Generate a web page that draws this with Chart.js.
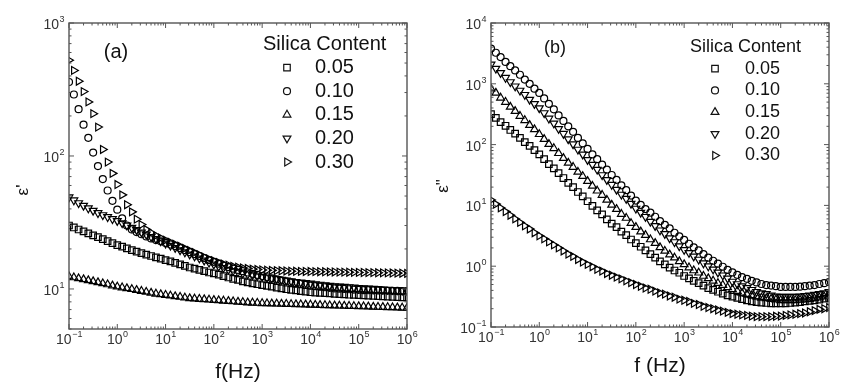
<!DOCTYPE html>
<html>
<head>
<meta charset="utf-8">
<script src="https://cdn.jsdelivr.net/npm/chart.js@4.4.1/dist/chart.umd.min.js"></script>
<style>
  html, body { margin: 0; padding: 0; background: #fff; }
  #wrap { position: relative; width: 843px; height: 385px; }
  canvas { position: absolute; top: 0; }
  #ca { left: 0; }
  #cb { left: 421px; }
</style>
</head>
<body>
<div id="wrap">
  <canvas id="ca" width="421" height="385"></canvas>
  <canvas id="cb" width="422" height="385"></canvas>
</div>
<script>
// ---------- Data ----------
const seriesLabels = ["0.05", "0.10", "0.15", "0.20", "0.30"];

// frequency sweep (Hz), 10 points per decade
const freq = [
  0.1, 0.126, 0.158, 0.2, 0.251, 0.316, 0.398, 0.501, 0.631, 0.794,
  1, 1.26, 1.58, 2, 2.51, 3.16, 3.98, 5.01, 6.31, 7.94,
  10, 12.6, 15.8, 20, 25.1, 31.6, 39.8, 50.1, 63.1, 79.4,
  100, 126, 158, 200, 251, 316, 398, 501, 631, 794,
  1000, 1260, 1580, 2000, 2510, 3160, 3980, 5010, 6310, 7940,
  10000, 12600, 15800, 20000, 25100, 31600, 39800, 50100, 63100, 79400,
  100000, 126000, 158000, 200000, 251000, 316000, 398000, 501000, 631000, 794000,
  1000000
];

// (a) real permittivity
const a05 = [
  30, 29, 28, 27.1, 26.2, 25.3, 24.5, 23.7, 22.9, 22.1,
  21.4, 20.8, 20.2, 19.6, 19.1, 18.6, 18.1, 17.7, 17.3, 16.9,
  16.5, 16.1, 15.7, 15.3, 14.9, 14.5, 14.2, 13.9, 13.6, 13.3,
  13.1, 12.8, 12.5, 12.2, 11.9, 11.7, 11.4, 11.2, 11.0, 10.85,
  10.7, 10.55, 10.4, 10.25, 10.1, 9.95, 9.85, 9.75, 9.65, 9.55,
  9.45, 9.4, 9.35, 9.3, 9.25, 9.2, 9.15, 9.1, 9.05, 9.02,
  9.0, 8.96, 8.92, 8.88, 8.84, 8.8, 8.76, 8.72, 8.69, 8.66,
  8.63
];
const a10 = [
  360, 290, 225, 172, 137, 106, 84, 67, 55, 46,
  39.5, 34, 30, 28, 26.8, 25.8, 24.8, 24.0, 23.3, 22.8,
  22.2, 21.6, 21.0, 20.3, 19.6, 18.9, 18.3, 17.7, 17.1, 16.5,
  16.0, 15.5, 15.0, 14.6, 14.2, 13.9, 13.6, 13.3, 13.0, 12.75,
  12.5, 12.25, 12.0, 11.8, 11.6, 11.4, 11.2, 11.05, 10.9, 10.75,
  10.6, 10.5, 10.4, 10.3, 10.2, 10.1, 10.05, 10.0, 9.95, 9.9,
  9.85, 9.8, 9.78, 9.76, 9.74, 9.72, 9.7, 9.68, 9.66, 9.64,
  9.62
];
const a15 = [
  12.4, 12.2, 12.0, 11.8, 11.6, 11.4, 11.2, 11.0, 10.8, 10.6,
  10.4, 10.25, 10.1, 9.95, 9.8, 9.65, 9.5, 9.35, 9.2, 9.1,
  9.0, 8.9, 8.8, 8.7, 8.6, 8.5, 8.45, 8.4, 8.35, 8.3,
  8.25, 8.2, 8.15, 8.1, 8.05, 8.0, 7.95, 7.9, 7.87, 7.84,
  7.8, 7.78, 7.76, 7.74, 7.72, 7.7, 7.68, 7.66, 7.64, 7.62,
  7.6, 7.58, 7.56, 7.54, 7.52, 7.5, 7.48, 7.46, 7.44, 7.42,
  7.4, 7.38, 7.36, 7.34, 7.32, 7.3, 7.28, 7.26, 7.24, 7.22,
  7.2
];
const a20 = [
  49, 46.5, 44.3, 42.3, 40.5, 38.8, 37.3, 36, 34.8, 33.6,
  32.5, 31.3, 30.1, 28.9, 27.8, 26.7, 25.7, 24.7, 23.8, 22.9,
  22, 21.2, 20.4, 19.6, 18.9, 18.2, 17.6, 17.0, 16.4, 15.8,
  15.3, 14.8, 14.4, 14.0, 13.7, 13.4, 13.1, 12.9, 12.7, 12.5,
  12.35, 12.2, 12.05, 11.9, 11.75, 11.6, 11.45, 11.3, 11.2, 11.1,
  11.0, 10.9, 10.8, 10.7, 10.6, 10.5, 10.45, 10.4, 10.35, 10.3,
  10.2, 10.15, 10.1, 10.05, 10.0, 9.95, 9.9, 9.85, 9.8, 9.75,
  9.7
];
const a30 = [
  525, 440, 365, 305, 255, 208, 165, 112, 90, 74,
  61, 51, 43, 38, 33.5, 30.5, 28, 26.5, 25.2, 24.2,
  23.3, 22.5, 21.7, 21.0, 20.2, 19.5, 18.8, 18.1, 17.4, 16.8,
  16.3, 15.8, 15.4, 15.1, 14.8, 14.6, 14.4, 14.25, 14.1, 14.0,
  13.9, 13.85, 13.8, 13.75, 13.7, 13.65, 13.6, 13.58, 13.56, 13.54,
  13.52, 13.5, 13.48, 13.46, 13.44, 13.42, 13.4, 13.38, 13.36, 13.34,
  13.32, 13.3, 13.28, 13.26, 13.24, 13.22, 13.2, 13.18, 13.16, 13.14,
  13.1
];

// (b) imaginary permittivity
const b05 = [
  316, 275, 234, 204, 174, 151, 129, 110, 95, 81,
  69, 57.5, 47.9, 40.7, 33.9, 28.2, 23.4, 20, 16.6, 14.1,
  11.7, 9.8, 8.3, 7.1, 5.9, 5.0, 4.4, 3.7, 3.24, 2.75,
  2.4, 2.09, 1.82, 1.58, 1.38, 1.2, 1.07, 0.95, 0.85, 0.78,
  0.69, 0.63, 0.575, 0.525, 0.48, 0.437, 0.407, 0.38, 0.355, 0.331,
  0.316, 0.302, 0.288, 0.275, 0.263, 0.257, 0.251, 0.248, 0.245, 0.245,
  0.245, 0.245, 0.248, 0.251, 0.257, 0.263, 0.269, 0.275, 0.282, 0.292,
  0.302
];
const b10 = [
  3800, 3240, 2750, 2290, 1950, 1660, 1410, 1175, 1000, 832,
  708, 575, 468, 380, 302, 245, 200, 162, 129, 105,
  85, 69, 57.5, 46.8, 38.9, 31.6, 26.3, 21.4, 17.8, 14.5,
  12.0, 10.2, 8.7, 7.6, 6.5, 5.5, 4.8, 4.2, 3.55, 3.1,
  2.7, 2.34, 2.04, 1.82, 1.58, 1.38, 1.23, 1.10, 0.98, 0.87,
  0.79, 0.72, 0.66, 0.62, 0.575, 0.54, 0.51, 0.49, 0.48, 0.47,
  0.457, 0.457, 0.457, 0.457, 0.46, 0.47, 0.48, 0.49, 0.51, 0.525,
  0.55
];
const b15 = [
  832, 708, 589, 501, 417, 355, 295, 251, 209, 178,
  148, 123, 102, 87, 72, 60, 50, 42.7, 35.5, 30.2,
  25.1, 20.9, 17.4, 14.8, 12.3, 10.2, 8.7, 7.2, 6.2, 5.1,
  4.4, 3.7, 3.24, 2.75, 2.4, 2.04, 1.78, 1.55, 1.38, 1.2,
  1.07, 0.95, 0.85, 0.78, 0.69, 0.63, 0.575, 0.525, 0.49, 0.447,
  0.417, 0.39, 0.363, 0.347, 0.331, 0.316, 0.302, 0.295, 0.288, 0.282,
  0.275, 0.275, 0.275, 0.275, 0.279, 0.282, 0.288, 0.295, 0.305, 0.316,
  0.324
];
const b20 = [
  2090, 1780, 1510, 1260, 1070, 912, 776, 661, 550, 468,
  398, 331, 269, 224, 182, 151, 123, 102, 83, 69,
  56, 46.8, 38.9, 31.6, 26.3, 21.9, 18.2, 15.1, 12.9, 10.7,
  8.9, 7.6, 6.5, 5.4, 4.6, 3.9, 3.4, 2.9, 2.5, 2.14,
  1.86, 1.66, 1.45, 1.29, 1.12, 1.0, 0.89, 0.79, 0.71, 0.63,
  0.56, 0.51, 0.47, 0.44, 0.41, 0.38, 0.36, 0.35, 0.33, 0.32,
  0.316, 0.316, 0.316, 0.316, 0.32, 0.324, 0.33, 0.34, 0.35, 0.36,
  0.38
];
const b30 = [
  12.3, 10.5, 9.1, 7.9, 6.9, 6.0, 5.25, 4.6, 4.1, 3.55,
  3.16, 2.82, 2.51, 2.24, 2.0, 1.78, 1.58, 1.45, 1.29, 1.17,
  1.07, 0.98, 0.89, 0.83, 0.76, 0.71, 0.66, 0.62, 0.575, 0.537,
  0.50, 0.468, 0.437, 0.417, 0.389, 0.363, 0.347, 0.324, 0.309, 0.288,
  0.275, 0.263, 0.245, 0.234, 0.219, 0.209, 0.2, 0.19, 0.182, 0.174,
  0.166, 0.162, 0.158, 0.155, 0.151, 0.148, 0.148, 0.148, 0.148, 0.15,
  0.151, 0.155, 0.158, 0.162, 0.166, 0.17, 0.178, 0.186, 0.195, 0.2,
  0.209
];

// decade exponents used as tick labels
const xTickExp = [-1, 0, 1, 2, 3, 4, 5, 6];
const aYTickExp = [1, 2, 3];
const bYTickExp = [-1, 0, 1, 2, 3, 4];

// ---------- Styling ----------
const FONT = '"Liberation Sans", Arial, Helvetica, sans-serif';
const MARKERS = [
  { style: 'rect', rot: 0, r: 4.6 },
  { style: 'circle', rot: 0, r: 3.5 },
  { style: 'triangle', rot: 0, r: 4.5 },
  { style: 'triangle', rot: 180, r: 4.5 },
  { style: 'triangle', rot: 90, r: 4.5 }
];

function drawMarker(ctx, m, x, y) {
  const r = m.r;
  ctx.beginPath();
  if (m.style === 'circle') {
    ctx.arc(x, y, r, 0, Math.PI * 2);
  } else if (m.style === 'rect') {
    const s = r * Math.SQRT1_2;
    ctx.rect(x - s, y - s, 2 * s, 2 * s);
  } else {
    let rad = m.rot * Math.PI / 180;
    for (let k = 0; k < 3; k++) {
      const px = x + Math.sin(rad) * r, py = y - Math.cos(rad) * r;
      k === 0 ? ctx.moveTo(px, py) : ctx.lineTo(px, py);
      rad += 2 * Math.PI / 3;
    }
    ctx.closePath();
  }
  ctx.stroke();
}

function powLabel(ctx, x, y, e, align) {
  const base = '10';
  const sup = e < 0 ? '\u2212' + (-e) : String(e);
  ctx.font = '14px ' + FONT;
  const wb = ctx.measureText(base).width;
  ctx.font = '9px ' + FONT;
  const ws = ctx.measureText(sup).width;
  const x0 = align === 'center' ? x - (wb + ws) / 2 : x - wb - ws;
  ctx.textAlign = 'left';
  ctx.textBaseline = 'alphabetic';
  ctx.font = '14px ' + FONT;
  ctx.fillText(base, x0, y);
  ctx.font = '9px ' + FONT;
  ctx.fillText(sup, x0 + wb + 0.5, y - 7);
}

// frame, inward ticks, labels, legend
const panelDecor = {
  id: 'panelDecor',
  afterDraw(chart, args, o) {
    const ctx = chart.ctx, ca = chart.chartArea;
    const xs = chart.scales.x, ys = chart.scales.y;
    ctx.save();

    ctx.strokeStyle = '#555';
    ctx.lineWidth = 1.4;
    ctx.strokeRect(ca.left, ca.top, ca.right - ca.left, ca.bottom - ca.top);

    ctx.lineWidth = 1;
    const line = (x1, y1, x2, y2) => {
      ctx.beginPath(); ctx.moveTo(x1, y1); ctx.lineTo(x2, y2); ctx.stroke();
    };
    const logTicks = (min, max, fn) => {
      for (let e = Math.floor(Math.log10(min)); e <= Math.ceil(Math.log10(max)); e++) {
        for (let m = 1; m < 10; m++) {
          const v = m * Math.pow(10, e);
          if (v < min * 0.9999 || v > max * 1.0001) continue;
          fn(v, m === 1);
        }
      }
    };
    logTicks(xs.min, xs.max, (v, major) => {
      const px = xs.getPixelForValue(v), len = major ? 5 : 2.5;
      line(px, ca.bottom, px, ca.bottom - len);
      line(px, ca.top, px, ca.top + len);
    });
    logTicks(ys.min, ys.max, (v, major) => {
      const py = ys.getPixelForValue(v), len = major ? 5 : 2.5;
      line(ca.left, py, ca.left + len, py);
      line(ca.right, py, ca.right - len, py);
    });

    ctx.fillStyle = '#333';
    xTickExp.forEach(e => {
      powLabel(ctx, xs.getPixelForValue(Math.pow(10, e)), ca.bottom + 15, e, 'center');
    });
    o.yExp.forEach(e => {
      powLabel(ctx, ca.left - 5, ys.getPixelForValue(Math.pow(10, e)) + 6, e, 'right');
    });

    ctx.fillStyle = '#111';
    ctx.textAlign = 'center';
    ctx.textBaseline = 'alphabetic';
    ctx.font = '21px ' + FONT;
    ctx.fillText(o.xTitle, (ca.left + ca.right) / 2, o.xTitleY);

    ctx.save();
    ctx.translate(o.yTitleX, o.yTitleY);
    ctx.rotate(-Math.PI / 2);
    ctx.textBaseline = 'middle';
    ctx.font = '17px ' + FONT;
    ctx.fillText(o.yTitle, 0, 0);
    ctx.restore();

    ctx.font = o.fontSize + 'px ' + FONT;
    ctx.textBaseline = 'middle';
    ctx.fillText(o.tag, o.tagX, o.tagY);

    const lg = o.legend;
    ctx.textAlign = 'left';
    ctx.fillText('Silica Content', lg.x, lg.y);
    ctx.strokeStyle = '#111';
    ctx.lineWidth = 1.2;
    seriesLabels.forEach((lab, i) => {
      const y = lg.y + lg.step * (i + 1);
      drawMarker(ctx, MARKERS[i], lg.mx, y);
      ctx.fillText(lab, lg.tx, y);
    });
    ctx.restore();
  }
};

function makeSets(series) {
  return series.map((vals, i) => ({
    label: seriesLabels[i],
    data: freq.map((f, j) => ({ x: f, y: vals[j] })),
    pointStyle: MARKERS[i].style,
    pointRotation: MARKERS[i].rot,
    pointRadius: MARKERS[i].r,
    borderColor: '#000',
    backgroundColor: 'rgba(0,0,0,0)',
    borderWidth: 1.2,
    showLine: false
  }));
}

function renderPanel(canvasId, series, cfg) {
  return new Chart(document.getElementById(canvasId), {
    type: 'scatter',
    data: { datasets: makeSets(series) },
    plugins: [panelDecor],
    options: {
      responsive: false,
      animation: false,
      devicePixelRatio: 1,
      layout: { padding: { left: 0, right: cfg.padRight, top: 23, bottom: 0 } },
      plugins: {
        legend: { display: false },
        tooltip: { enabled: false },
        panelDecor: cfg.decor
      },
      scales: {
        x: {
          type: 'logarithmic', min: 0.1, max: 1e6,
          ticks: { display: false }, grid: { display: false }, border: { display: false },
          afterFit: s => { s.height = cfg.xHeight; }
        },
        y: {
          type: 'logarithmic', min: cfg.yMin, max: cfg.yMax,
          ticks: { display: false }, grid: { display: false }, border: { display: false },
          afterFit: s => { s.width = cfg.yWidth; }
        }
      }
    }
  });
}

renderPanel('ca', [a05, a10, a15, a20, a30], {
  yMin: 5, yMax: 1000, yWidth: 69, xHeight: 56, padRight: 14,
  decor: {
    yExp: aYTickExp, xTitle: 'f(Hz)', xTitleY: 378,
    yTitle: "\u03b5'", yTitleX: 23, yTitleY: 190,
    tag: '(a)', tagX: 116, tagY: 52, fontSize: 20,
    legend: { x: 263, y: 44, step: 23.6, mx: 287, tx: 315 }
  }
});

renderPanel('cb', [b05, b10, b15, b20, b30], {
  yMin: 0.1, yMax: 10000, yWidth: 70, xHeight: 58, padRight: 14,
  decor: {
    yExp: bYTickExp, xTitle: 'f (Hz)', xTitleY: 372,
    yTitle: "\u03b5\"", yTitleX: 22, yTitleY: 186,
    tag: '(b)', tagX: 134, tagY: 48, fontSize: 18,
    legend: { x: 269, y: 47, step: 21.7, mx: 294, tx: 324 }
  }
});
</script>
</body>
</html>
